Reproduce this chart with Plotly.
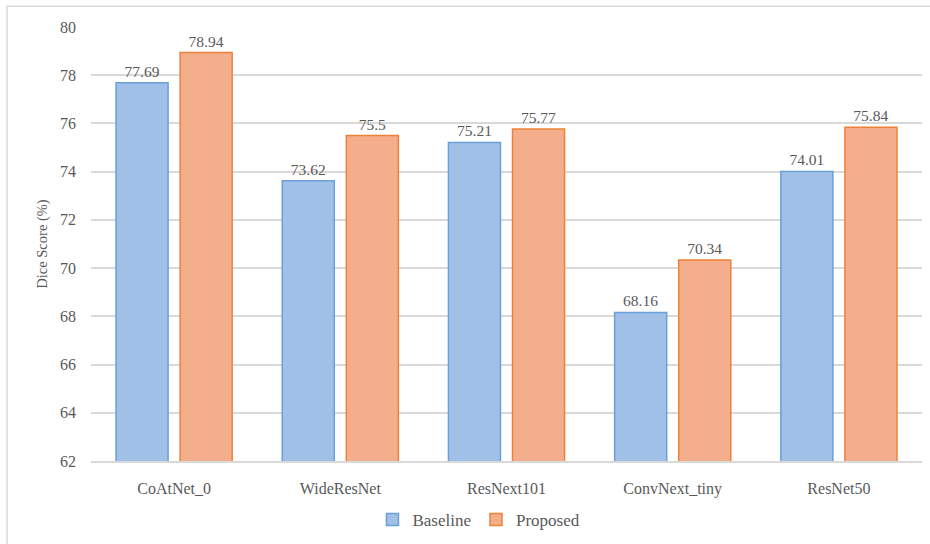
import plotly.graph_objects as go

models = ["CoAtNet_0", "WideResNet", "ResNext101", "ConvNext_tiny", "ResNet50"]
baseline = [77.69, 73.62, 75.21, 68.16, 74.01]
proposed = [78.94, 75.5, 75.77, 70.34, 75.84]
y_ticks = [62, 64, 66, 68, 70, 72, 74, 76, 78, 80]

FONT = "Liberation Serif"
GREY = "#595959"

fig = go.Figure()
fig.add_trace(go.Bar(
    name="Baseline", x=models, y=baseline,
    text=[f"{v:g}" for v in baseline], textposition="outside",
    marker=dict(color="#a0c0e7", line=dict(color="#6a9fd8", width=1.5)),
    textfont=dict(family=FONT, size=15.5, color=GREY), cliponaxis=False,
))
fig.add_trace(go.Bar(
    name="Proposed", x=models, y=proposed,
    text=[f"{v:g}" for v in proposed], textposition="outside",
    marker=dict(color="#f5ae8c", line=dict(color="#ee8139", width=1.5)),
    textfont=dict(family=FONT, size=15.5, color=GREY), cliponaxis=False,
))

fig.update_layout(
    width=930, height=544,
    margin=dict(l=91, r=8, t=27, b=83, autoexpand=False),
    paper_bgcolor="white", plot_bgcolor="white",
    barmode="group", bargap=0.229, bargroupgap=0.1875,
    font=dict(family=FONT, color=GREY, size=16),
    showlegend=True,
    legend=dict(orientation="h", x=0.515, xanchor="center", xref="container",
                y=0.044, yanchor="middle", yref="container",
                font=dict(family=FONT, size=17, color=GREY),
                itemwidth=30, tracegroupgap=0),
    shapes=[dict(type="rect", xref="paper", yref="paper",
                 x0=-0.101, x1=1.016, y0=-0.205, y1=1.048,
                 line=dict(color="#d9d9d9", width=1.5), layer="below")],
)
fig.update_yaxes(
    range=[62, 80], tickvals=y_ticks, showgrid=True, gridcolor="#d9d9d9", gridwidth=1.5,
    zeroline=False, showline=False, ticks="", ticklabelstandoff=14,
    tickfont=dict(family=FONT, size=16, color=GREY),
    title=dict(text="Dice Score (%)", font=dict(family=FONT, size=14.5, color=GREY), standoff=8),
)
fig.update_xaxes(
    showline=True, linecolor="#d9d9d9", linewidth=1.5, ticks="",
    tickfont=dict(family=FONT, size=16, color=GREY), ticklabelstandoff=12,
)

fig.write_html("out.html")
